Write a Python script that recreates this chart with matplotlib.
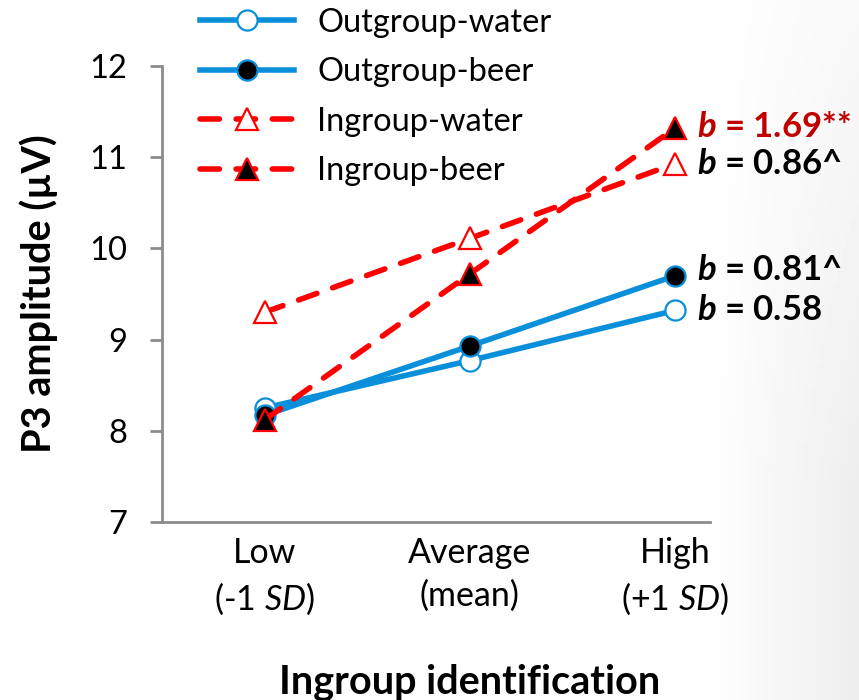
import matplotlib
matplotlib.use("Agg")
import matplotlib.pyplot as plt
import numpy as np

plt.rcParams['font.family'] = ['Lato', 'DejaVu Sans']
plt.rcParams['mathtext.fontset'] = 'custom'
plt.rcParams['mathtext.rm'] = 'Lato'
plt.rcParams['mathtext.it'] = 'Lato:italic'
plt.rcParams['mathtext.bf'] = 'Lato:bold'
plt.rcParams['mathtext.bfit'] = 'Lato:italic:bold'

categories = ["Low\n(-1 $\\mathit{SD}$)", "Average\n(mean)", "High\n(+1 $\\mathit{SD}$)"]
outgroup_water = [8.25, 8.77, 9.32]
outgroup_beer = [8.17, 8.93, 9.70]
ingroup_water = [9.30, 10.11, 10.93]
ingroup_beer = [8.12, 9.72, 11.32]
slopes = ["$\\mathbfit{b}$ = 0.58", "$\\mathbfit{b}$ = 0.81^", "$\\mathbfit{b}$ = 0.86^", "$\\mathbfit{b}$ = 1.69**"]
yticks = [7, 8, 9, 10, 11, 12]

blue = '#0A8FDA'
red = '#FF0000'
darkred = '#C00000'
grey = '#8C8C8C'

fig = plt.figure(figsize=(8.59, 7.0), dpi=100)

# faint slide shading at the right edge
bg = fig.add_axes([0, 0, 1, 1], zorder=-10)
gx = np.linspace(0, 1, 200)
gy = np.linspace(0, 1, 200)
GX, GY = np.meshgrid(gx, gy)
shade = np.clip((GX - 0.82) / 0.18, 0, 1) * np.clip(0.35 + GY * 0.9, 0, 1)
shade = 1 - 0.07 * shade
bg.imshow(shade, cmap='gray', vmin=0, vmax=1, extent=(0, 1, 0, 1), origin='upper', aspect='auto')
bg.axis('off')

ax = fig.add_axes([162/859, 1-522/700, (710-162)/859, (522-66)/700])
ax.patch.set_alpha(0)
x = np.arange(len(categories))

lw = 4
ms = 14.5
mew = 1.6
l1, = ax.plot(x, outgroup_water, color=blue, lw=lw, marker='o', ms=ms, mfc='white', mec=blue, mew=mew,
              label='Outgroup-water', zorder=3)
l2, = ax.plot(x, outgroup_beer, color=blue, lw=lw, marker='o', ms=ms, mfc='black', mec=blue, mew=mew,
              label='Outgroup-beer', zorder=3)
l3, = ax.plot(x, ingroup_water, color=red, lw=lw, marker='^', ms=ms+1, mfc='white', mec=red, mew=mew,
              label='Ingroup-water', zorder=3, dashes=(3.5, 3), dash_capstyle='round')
l4, = ax.plot(x, ingroup_beer, color=red, lw=lw, marker='^', ms=ms+1, mfc='black', mec=red, mew=mew,
              label='Ingroup-beer', zorder=4, dashes=(3.5, 3), dash_capstyle='round')

ax.set_xlim(-0.5, 2.17)
ax.set_ylim(7, 12)
ax.set_yticks(yticks)
ax.set_xticks(x)
ax.set_xticklabels(categories, fontsize=24.5, linespacing=1.38)
ax.tick_params(axis='x', length=0, pad=11)
ax.tick_params(axis='y', length=9, width=2, color=grey, labelsize=23.5, pad=16, direction='out')
for s in ['top', 'right']:
    ax.spines[s].set_visible(False)
for s in ['left', 'bottom']:
    ax.spines[s].set_color(grey)
    ax.spines[s].set_linewidth(2)

ax.set_ylabel('P3 amplitude (µV)', fontsize=28.5, fontweight='bold')
ax.yaxis.set_label_coords(-0.19, 0.5)
fig.text(470/859, 1-682/700, 'Ingroup identification', fontsize=28.5, fontweight='bold', ha='center', va='center')

last = len(categories) - 1
ann = [(outgroup_water[last], slopes[0], 'black', 0),
       (outgroup_beer[last], slopes[1], 'black', 4),
       (ingroup_water[last], slopes[2], 'black', 0),
       (ingroup_beer[last], slopes[3], darkred, 1)]
for yv, txt, col, dy in ann:
    ax.annotate(txt, xy=(x[last], yv), xytext=(16, dy), textcoords='offset points',
                va='center', ha='left', fontsize=25, fontweight='bold', color=col, annotation_clip=False)

leg = fig.legend(handles=[l1, l2, l3, l4], loc='upper left', bbox_to_anchor=(198/859, 1 - 6/700),
                 frameon=False, fontsize=23.5, handlelength=2.9, handletextpad=0.7,
                 labelspacing=0.6, borderpad=0.05, borderaxespad=0)

fig.savefig('out.png', dpi=100)
